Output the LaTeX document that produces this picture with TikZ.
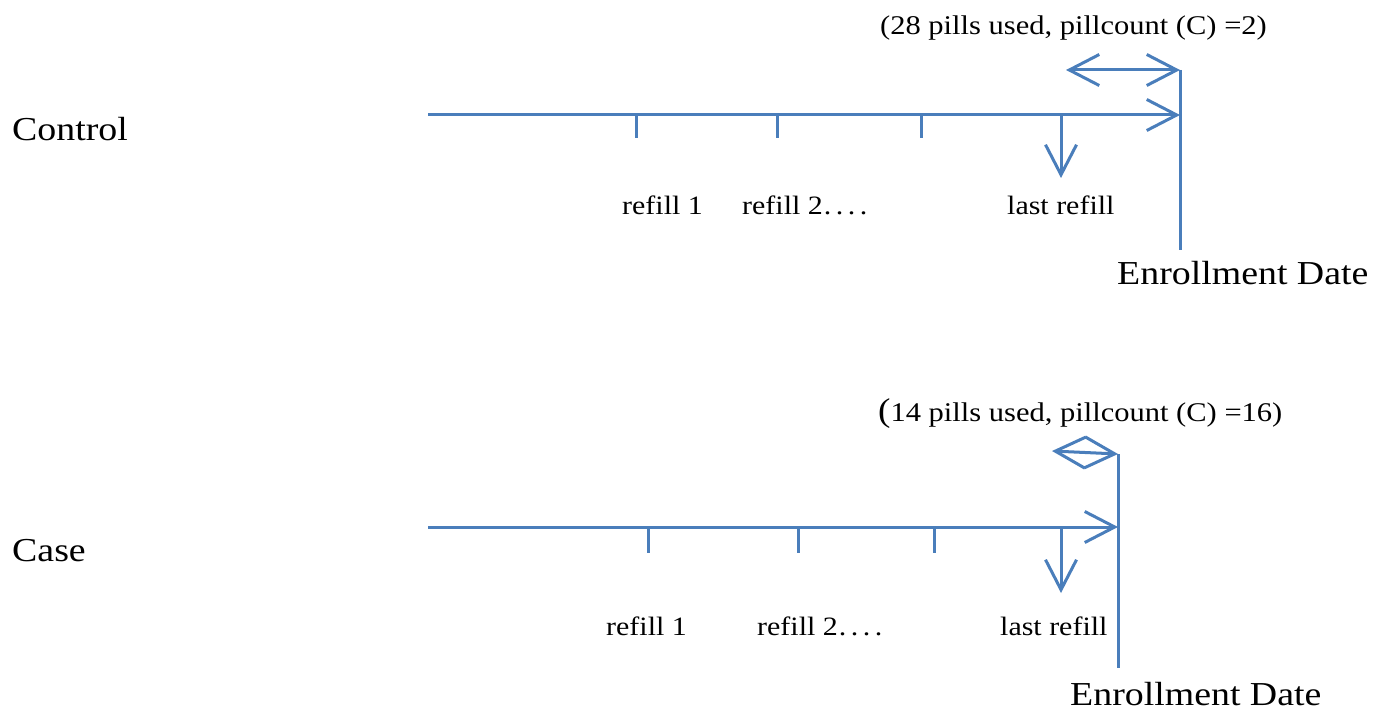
\documentclass[tikz,border=0pt]{standalone}
\usepackage{fontspec}
\setmainfont{Liberation Serif}[FakeStretch=1.13]
\usetikzlibrary{arrows.meta}
\definecolor{lineblue}{RGB}{74,126,187}
\newcommand{\dd}{\hspace{4.5pt}.}
\tikzset{
  tl/.style={draw=lineblue, line width=3pt},
  tip/.style={-{Straight Barb[length=30pt,width=31pt]}},
  dtip/.style={{Straight Barb[length=30pt,width=31pt]}-{Straight Barb[length=30pt,width=31pt]}},
  big/.style={inner sep=0pt, anchor=base west, font=\fontsize{33.5}{38}\selectfont},
  small/.style={inner sep=0pt, anchor=base west, font=\fontsize{26.5}{30}\selectfont},
  lab/.style={inner sep=0pt, anchor=base west, font=\fontsize{27}{32}\selectfont},
}
\begin{document}
\begin{tikzpicture}[x=1pt,y=-1pt]
\useasboundingbox (0,0) rectangle (1389,711);
% ---------------- Control ----------------
\node[big] (ctl) at (12,141) {Control};
\coordinate (c0) at (428,115);
\coordinate (cE) at (1180,115);
\coordinate (cEt) at (1180,70);
\coordinate (cEb) at (1180,250);
\coordinate (cDl) at (1066,70);
\coordinate (t1) at (636,115); \coordinate (t1b) at (636,138);
\coordinate (t2) at (777,115); \coordinate (t2b) at (777,138);
\coordinate (t3) at (921,115); \coordinate (t3b) at (921,138);
\coordinate (lr) at (1061,115); \coordinate (lrb) at (1061,178);
\draw[tl,tip] (c0) -- (cE);
\draw[tl] (cEt) -- (cEb);
\draw[tl,dtip] (cDl) -- (cEt);
\draw[tl] (t1) -- (t1b);
\draw[tl] (t2) -- (t2b);
\draw[tl] (t3) -- (t3b);
\draw[tl,tip] (lr) -- (lrb);
\node[small] (cr1) at (622,215) {refill 1};
\node[small] (cr2) at (742,215) {refill 2\hspace{1pt}.\dd\dd\dd};
\node[small] (clr) at (1007,215) {last refill};
\node[big] (cen) at (1117,285) {Enrollment Date};
\node[lab] (clab) at (880,35) {(28 pills used, pillcount (C) =2)};
% ---------------- Case ----------------
\node[big] (cas) at (12,561) {Case};
\coordinate (k0) at (428,527);
\coordinate (kE) at (1118,527);
\coordinate (kEt) at (1118,454);
\coordinate (kEb) at (1118,668);
\coordinate (kDl) at (1052,451);
\coordinate (s1) at (648,527); \coordinate (s1b) at (648,553);
\coordinate (s2) at (798,527); \coordinate (s2b) at (798,553);
\coordinate (s3) at (934,527); \coordinate (s3b) at (934,553);
\coordinate (klr) at (1061,527); \coordinate (klrb) at (1061,593);
\draw[tl,tip] (k0) -- (kE);
\draw[tl] (kEt) -- (kEb);
\draw[tl,dtip] (kDl) -- (kEt);
\draw[tl] (s1) -- (s1b);
\draw[tl] (s2) -- (s2b);
\draw[tl] (s3) -- (s3b);
\draw[tl,tip] (klr) -- (klrb);
\node[small] (kr1) at (606,635) {refill 1};
\node[small] (kr2) at (757,635) {refill 2\hspace{1pt}.\dd\dd\dd};
\node[small] (klrl) at (1000,635) {last refill};
\node[big] (ken) at (1070,705) {Enrollment Date};
\node[lab] (klab) at (878,421) {{\fontsize{33}{38}\selectfont(}14 pills used, pillcount (C) =16)};
\end{tikzpicture}
\end{document}
